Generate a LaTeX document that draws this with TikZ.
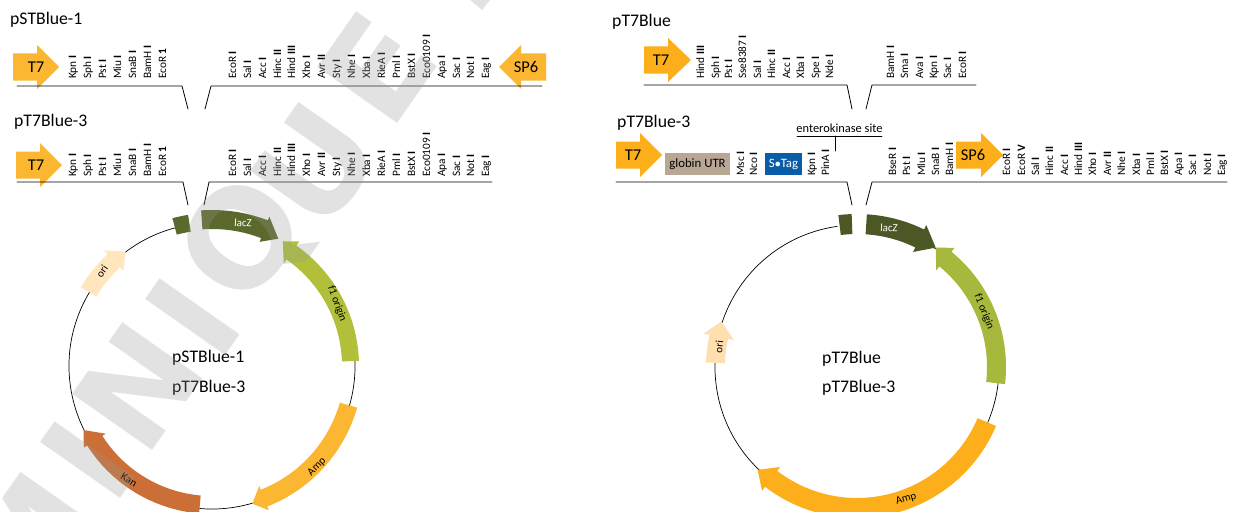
\documentclass[tikz,border=0pt]{standalone}
\usepackage{fontspec}
\setmainfont{Carlito}
\newfontfamily\wmfont{DejaVu Sans}
\usepackage{tikz}
\definecolor{promoleft}{HTML}{FBB632}
\definecolor{promoright}{HTML}{FDAF1B}
\definecolor{lacdark}{HTML}{5B6A2C}
\definecolor{lacright}{HTML}{4B5826}
\definecolor{foneleft}{HTML}{B1BF3A}
\definecolor{foneright}{HTML}{A8B83C}
\definecolor{kanband}{HTML}{CC6F36}
\definecolor{orileft}{HTML}{FFE6BC}
\definecolor{oriright}{HTML}{FFDFB0}
\definecolor{utrbox}{HTML}{B9A795}
\definecolor{stagbox}{HTML}{0B5CA8}
\definecolor{wmgrey}{HTML}{979797}
\tikzset{
  track/.style={line width=.8pt},
  ring/.style={line width=.7pt},
  titlelabel/.style={anchor=base west,inner sep=0pt,font=\fontsize{17.7}{18}\selectfont},
  sitelabel/.style={anchor=west,rotate=90,inner sep=0pt,text height=8pt,text depth=2pt,font=\fontsize{11.3}{12}\selectfont},
  bandlabel/.style={inner sep=0pt,font=\fontsize{11}{12}\selectfont},
  promolabel/.style={inner sep=0pt,font=\fontsize{16.5}{17}\selectfont},
  boxlabel/.style={inner sep=0pt,minimum height=22pt,font=\fontsize{12.8}{13}\selectfont},
  wmletter/.style={inner sep=0pt,rotate=55,color=wmgrey,opacity=.27,font=\fontsize{134}{134}\selectfont\wmfont\bfseries}
}
\newcommand{\site}[4]{\node[sitelabel] (site-#1-#2) at (#1,-#2) {#3 \textbf{#4}};}
\newcommand{\promoter}[5]{\fill[#5] (#1,-#4+13.5) -- (#2,-#4+13.5) -- (#2,-#4+22) -- (#3,-#4) -- (#2,-#4-22) -- (#2,-#4-13.5) -- (#1,-#4-13.5) -- cycle;}
\newcommand{\genearrow}[7]{\fill[#7,shift={(\ringc)}] (#3:#2) arc (#3:#4:#2) -- ({#4}:{#2+#6}) -- ({#5}:{\ringr}) -- ({#4}:{#1-#6}) -- (#4:#1) arc (#4:#3:#1) -- cycle;}
\newcommand{\genepiece}[5]{\fill[#5,shift={(\ringc)}] (#3:#2) arc (#3:#4:#2) -- (#4:#1) arc (#4:#3:#1) -- cycle;}
\begin{document}
\begin{tikzpicture}[line cap=round,line join=round,x=1pt,y=1pt]
\path[use as bounding box,clip] (0,-511) rectangle (1236,0);
\fill[white] (0,-511) rectangle (1236,0);
\node[titlelabel] (titleA) at (10,-25) {pSTBlue-1};
\node[titlelabel] (titleB) at (14,-126) {pT7Blue-3};
\node[titlelabel] (titleC) at (612,-27) {pT7Blue};
\node[titlelabel] (titleD) at (617,-127) {pT7Blue-3};
\promoter{13}{37}{59}{67}{promoleft}
\promoter{546}{521}{499}{67}{promoleft}
\promoter{16}{40}{62}{165}{promoleft}
\promoter{644}{668}{691}{60}{promoright}
\promoter{616}{640}{662}{155}{promoright}
\promoter{956}{981}{1003}{155}{promoright}
\node[promolabel] (tA) at (36,-67) {T7};
\node[promolabel] (spA) at (526,-67) {SP6};
\node[promolabel] (tB) at (36,-165) {T7};
\node[promolabel] (tC) at (661,-60) {T7};
\node[promolabel] (tD) at (633,-155) {T7};
\node[promolabel] (spD) at (973,-155) {SP6};
\draw [track] (17,-86)-- (182,-86)-- (188,-109);
\draw [track] (205,-109)-- (211,-86)-- (542,-86);
\draw [track] (17,-182)-- (183,-182)-- (188,-205);
\draw [track] (204,-205)-- (209,-182)-- (492,-182);
\draw [track] (644,-85)-- (847,-85)-- (852,-109);
\draw [track] (866,-109)-- (872,-85)-- (976,-85);
\draw [track] (616,-182)-- (847,-182)-- (852,-205);
\draw [track] (866,-205)-- (872,-182)-- (1227,-182);
\site{73}{79}{Kpn}{I}
\site{88}{79}{Sph}{I}
\site{103}{79}{Pst}{I}
\site{118}{79}{Miu}{I}
\site{133}{79}{SnaB}{I}
\site{148}{79}{BamH}{I}
\site{163}{79}{EcoR}{1}
\site{233}{79}{EcoR}{I}
\site{248}{79}{Sal}{I}
\site{263}{79}{Acc}{I}
\site{278}{79}{Hinc}{II}
\site{292}{79}{Hind}{III}
\site{307}{79}{Xho}{I}
\site{322}{79}{Avr}{II}
\site{337}{79}{Sty}{I}
\site{352}{79}{Nhe}{I}
\site{367}{79}{Xba}{I}
\site{382}{79}{RieA}{I}
\site{397}{79}{Pml}{I}
\site{412}{79}{BstX}{I}
\site{427}{79}{Eco0109}{I}
\site{442}{79}{Apa}{I}
\site{457}{79}{Sac}{I}
\site{471}{79}{Not}{I}
\site{486}{79}{Eag}{I}
\site{73}{177}{Kpn}{I}
\site{88}{177}{Sph}{I}
\site{103}{177}{Pst}{I}
\site{118}{177}{Miu}{I}
\site{133}{177}{SnaB}{I}
\site{148}{177}{BamH}{I}
\site{163}{177}{EcoR}{1}
\site{233}{177}{EcoR}{I}
\site{248}{177}{Sal}{I}
\site{263}{177}{Acc}{I}
\site{278}{177}{Hinc}{II}
\site{292}{177}{Hind}{III}
\site{307}{177}{Xho}{I}
\site{322}{177}{Avr}{II}
\site{337}{177}{Sty}{I}
\site{352}{177}{Nhe}{I}
\site{367}{177}{Xba}{I}
\site{382}{177}{RieA}{I}
\site{397}{177}{Pml}{I}
\site{412}{177}{BstX}{I}
\site{427}{177}{Eco0109}{I}
\site{442}{177}{Apa}{I}
\site{457}{177}{Sac}{I}
\site{471}{177}{Not}{I}
\site{486}{177}{Eag}{I}
\site{701}{79}{Hind}{III}
\site{716}{79}{Sph}{I}
\site{729}{79}{Pst}{I}
\site{743}{79}{Sse8387}{I}
\site{758}{79}{Sal}{I}
\site{772}{79}{Hinc}{II}
\site{787}{79}{Acc}{I}
\site{801}{79}{Xba}{I}
\site{816}{79}{Spe}{I}
\site{830}{79}{Nde}{I}
\site{891}{79}{BamH}{I}
\site{905}{79}{Sma}{I}
\site{920}{79}{Ava}{I}
\site{934}{79}{Kpn}{I}
\site{948}{79}{Sac}{I}
\site{963}{79}{EcoR}{I}
\node[boxlabel,fill=utrbox,minimum width=65pt] (utr) at (697.5,-164) {globin UTR};
\node[boxlabel,fill=stagbox,text=white,minimum width=37pt] (stag) at (783.5,-164) {S$\bullet$Tag};
\site{741}{176}{Msc}{I}
\site{754}{176}{Nco}{I}
\site{812}{176}{Kpn}{I}
\site{826}{176}{PinA}{I}
\node[anchor=base,inner sep=0pt,font=\fontsize{12.4}{13}\selectfont] (eksite) at (839.5,-132) {enterokinase site};
\coordinate (ektop) at (835,-136);
\coordinate (ekfoot) at (835,-151);
\draw [track] (797,-136)-- (882,-136);
\draw [track] (ektop)-- (ekfoot);
\site{893}{176}{BseR}{I}
\site{907}{176}{Pst}{I}
\site{922}{176}{Mlu}{I}
\site{936}{176}{SnaB}{I}
\site{950}{176}{BamH}{I}
\site{1007}{176}{EcoR}{I}
\site{1022}{176}{EcoR}{V}
\site{1036}{176}{Sal}{I}
\site{1050}{176}{Hinc}{II}
\site{1065}{176}{Acc}{I}
\site{1079}{176}{Hind}{III}
\site{1093}{176}{Xho}{I}
\site{1108}{176}{Avr}{II}
\site{1122}{176}{Nhe}{I}
\site{1137}{176}{Xba}{I}
\site{1151}{176}{Pml}{I}
\site{1165}{176}{BstX}{I}
\site{1179}{176}{Apa}{I}
\site{1193}{176}{Sac}{I}
\site{1208}{176}{Not}{I}
\site{1222}{176}{Eag}{I}
\def\ringc{212,-366}
\def\ringr{143.5}
\draw [ring,shift={(\ringc)}] (101:143)  arc (101:420:143);
\genepiece{136}{153}{99}{105}{lacdark}
\genearrow{137}{156}{94}{69}{62.5}{4}{lacdark}
\genearrow{130}{147}{2}{55}{60.4}{5}{foneleft}
\genearrow{133}{151}{-16}{-68.5}{-73.7}{4}{promoleft}
\genearrow{130}{148}{265}{212.5}{206.5}{4}{kanband}
\genearrow{135}{153}{149}{133}{127}{5}{orileft}
\node[bandlabel,text=white,rotate=-3] (lacA) at (243,-223) {lacZ};
\node[bandlabel,rotate=-70] (foneA) at (337,-304) {f1 origin};
\node[bandlabel,rotate=45] (ampA) at (317,-467) {Amp};
\node[bandlabel,rotate=-30] (kanA) at (129,-480) {Kan};
\node[bandlabel,rotate=55] (oriA) at (102,-271) {ori};
\node[titlelabel] (nameA) at (172,-362) {pSTBlue-1};
\node[titlelabel] (nameB) at (172,-392) {pT7Blue-3};
\def\ringc{857,-367}
\def\ringr{143}
\draw [ring,shift={(\ringc)}] (98:142)  arc (98:417:142);
\genepiece{133}{153}{92}{97}{lacright}
\genearrow{133}{153}{86.3}{64}{56.6}{5}{lacright}
\genearrow{130}{149}{-6.6}{50.7}{56.6}{5}{foneright}
\genearrow{131}{151}{-23}{-127.5}{-134}{5}{promoright}
\genearrow{132}{151}{178.3}{167.7}{161.4}{6}{oriright}
\node[bandlabel,text=white,rotate=-3] (lacB) at (889,-228) {lacZ};
\node[bandlabel,rotate=-68] (foneB) at (984,-312) {f1 origin};
\node[bandlabel,rotate=17] (ampB) at (906,-499) {Amp};
\node[bandlabel,rotate=85] (oriB) at (719,-347) {ori};
\node[titlelabel] (nameC) at (822,-363) {pT7Blue};
\node[titlelabel] (nameD) at (822,-392) {pT7Blue-3};
\node[wmletter] (wmA) at (30,-545) {M};
\node[wmletter] (wmB) at (88,-460) {I};
\node[wmletter] (wmC) at (138,-387) {N};
\node[wmletter] (wmD) at (193,-317) {I};
\node[wmletter] (wmE) at (247,-243) {Q};
\node[wmletter] (wmF) at (315,-165) {U};
\node[wmletter] (wmG) at (377,-68) {E};
\fill[wmgrey,opacity=.27] (470,0)-- (482,-10)-- (490,0)-- cycle;
\end{tikzpicture}
\end{document}
